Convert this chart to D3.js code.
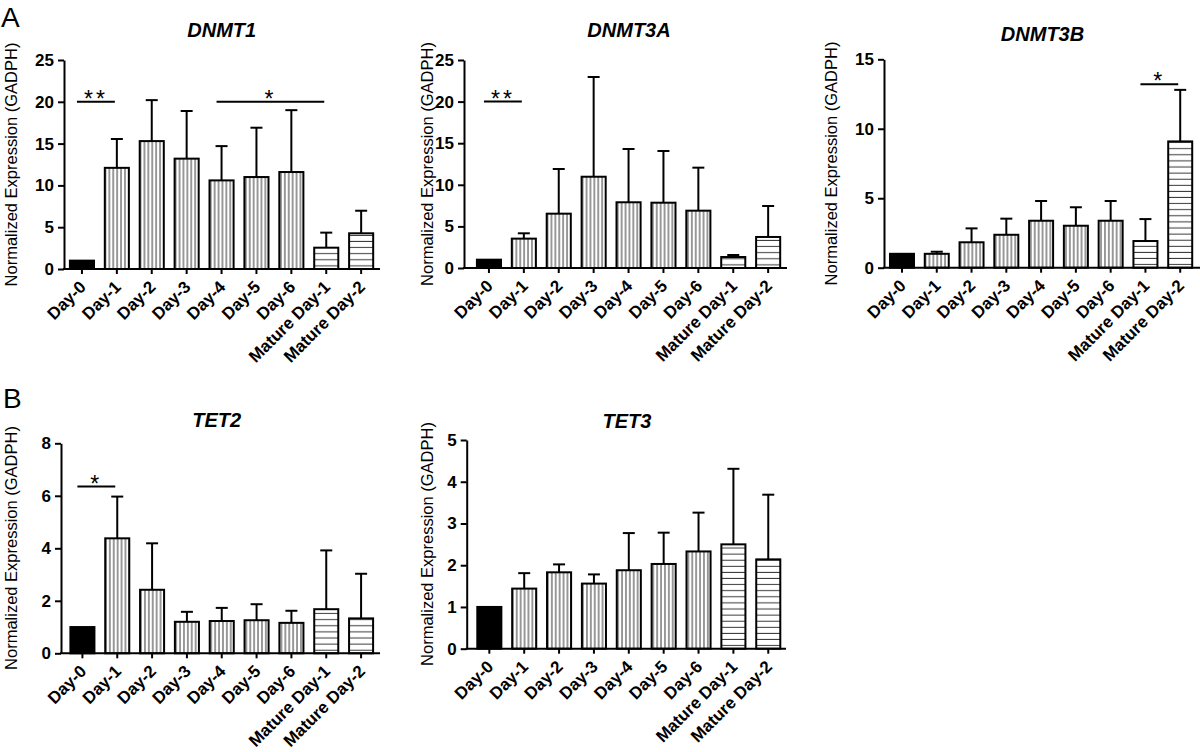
<!DOCTYPE html>
<html><head><meta charset="utf-8">
<script src="https://cdn.jsdelivr.net/npm/d3@7/dist/d3.min.js"></script>
<style>
body{margin:0;background:#fff}
svg{display:block}
text{font-family:"Liberation Sans",Arial,Helvetica,sans-serif;fill:#000}
</style>
</head><body>
<svg id="chart" width="1200" height="752"></svg>
<script>
// ---------- data ----------
const categories = ["Day-0","Day-1","Day-2","Day-3","Day-4","Day-5","Day-6","Mature Day-1","Mature Day-2"];

const dnmt1Mean  = [1.0, 12.1, 15.3, 13.2, 10.6, 11.0, 11.6, 2.55, 4.27];
const dnmt1Err   = [0, 3.45, 4.9, 5.7, 4.1, 5.9, 7.4, 1.8, 2.7];
const dnmt3aMean = [1.0, 3.53, 6.53, 10.97, 7.9, 7.85, 6.89, 1.32, 3.73];
const dnmt3aErr  = [0, 0.64, 5.37, 11.99, 6.4, 6.21, 5.17, 0.24, 3.72];
const dnmt3bMean = [1.0, 1.0, 1.83, 2.37, 3.38, 3.02, 3.38, 1.92, 9.09];
const dnmt3bErr  = [0, 0.15, 1.0, 1.16, 1.42, 1.33, 1.42, 1.58, 3.71];
const tet2Mean   = [1.0, 4.38, 2.42, 1.2, 1.23, 1.26, 1.16, 1.68, 1.33];
const tet2Err    = [0, 1.59, 1.77, 0.38, 0.5, 0.61, 0.46, 2.24, 1.7];
const tet3Mean   = [1.0, 1.44, 1.83, 1.56, 1.88, 2.03, 2.33, 2.5, 2.14];
const tet3Err    = [0, 0.37, 0.19, 0.22, 0.89, 0.75, 0.93, 1.81, 1.55];

const yTicksDNMT1  = [0, 5, 10, 15, 20, 25];
const yTicksDNMT3A = [0, 5, 10, 15, 20, 25];
const yTicksDNMT3B = [0, 5, 10, 15];
const yTicksTET2   = [0, 2, 4, 6, 8];
const yTicksTET3   = [0, 1, 2, 3, 4, 5];

const sigDNMT1  = [{from:"Day-0", to:"Day-1", y:20, label:"**"}, {from:"Day-4", to:"Mature Day-1", y:20, label:"*"}];
const sigDNMT3A = [{from:"Day-0", to:"Day-1", y:20, label:"**"}];
const sigDNMT3B = [{from:"Mature Day-1", to:"Mature Day-2", y:13.2, label:"*"}];
const sigTET2   = [{from:"Day-0", to:"Day-1", y:6.35, label:"*"}];
const sigTET3   = [];

const geneNames = ["DNMT1","DNMT3A","DNMT3B","TET2","TET3"];
const panelLetters = ["A","B"];
const yAxisTitle = "Normalized Expression (GADPH)";

// ---------- layout ----------
const panels = [
  {title:geneNames[0], mean:dnmt1Mean,  err:dnmt1Err,  ticks:yTicksDNMT1,  sig:sigDNMT1,
   ax:64,  b0:64.5,  b1:378.6,  xEnd:380,  yTop:60,   yBot:269,   tx:221.7, ty:36.7, lx:17,  ly:164.5},
  {title:geneNames[1], mean:dnmt3aMean, err:dnmt3aErr, ticks:yTicksDNMT3A, sig:sigDNMT3A,
   ax:464, b0:471.5, b1:785.6,  xEnd:787,  yTop:60,   yBot:268,   tx:629,   ty:37,   lx:433, ly:164},
  {title:geneNames[2], mean:dnmt3bMean, err:dnmt3bErr, ticks:yTicksDNMT3B, sig:sigDNMT3B,
   ax:884, b0:884.6, b1:1197.6, xEnd:1200, yTop:59.3, yBot:267.7, tx:1042.5,ty:41,   lx:837, ly:163.5},
  {title:geneNames[3], mean:tet2Mean,   err:tet2Err,   ticks:yTicksTET2,   sig:sigTET2,
   ax:61,  b0:65,    b1:378.5,  xEnd:380,  yTop:443.3,yBot:653.3, tx:216.7, ty:426.7,lx:17,  ly:548},
  {title:geneNames[4], mean:tet3Mean,   err:tet3Err,   ticks:yTicksTET3,   sig:sigTET3,
   ax:466.7,b0:471.9,b1:785.7,  xEnd:786,  yTop:440,  yBot:648.7, tx:627,   ty:427.5,lx:433, ly:544}
];

const svg = d3.select("#chart");
const defs = svg.append("defs");

svg.append("text").attr("x", 1).attr("y", 27).attr("font-size", 28).text(panelLetters[0]);
svg.append("text").attr("x", 3).attr("y", 408).attr("font-size", 28).text(panelLetters[1]);

panels.forEach((p, pi) => {
  const g = svg.append("g");
  const x = d3.scaleBand().domain(categories).range([p.b0, p.b1]).paddingInner(0.31).paddingOuter(0.155);
  const yMax = p.ticks[p.ticks.length - 1];
  const y = d3.scaleLinear().domain([0, yMax]).range([p.yBot, p.yTop]);

  // patterns
  const vId = "vert" + pi, hId = "horz" + pi;
  const pv = defs.append("pattern").attr("id", vId).attr("patternUnits", "userSpaceOnUse")
    .attr("x", p.b0).attr("y", 0).attr("width", 3.9).attr("height", 10);
  pv.append("line").attr("x1", 1.95).attr("x2", 1.95).attr("y1", 0).attr("y2", 10)
    .attr("stroke", "#333").attr("stroke-width", 1);
  const ph = defs.append("pattern").attr("id", hId).attr("patternUnits", "userSpaceOnUse")
    .attr("x", 0).attr("y", p.yBot).attr("width", 10).attr("height", 6.1);
  ph.append("line").attr("x1", 0).attr("x2", 10).attr("y1", 3).attr("y2", 3)
    .attr("stroke", "#333").attr("stroke-width", 1);

  const fillFor = c => c === "Day-0" ? "#000" : (c.startsWith("Mature") ? `url(#${hId})` : `url(#${vId})`);

  // title
  g.append("text").attr("x", p.tx).attr("y", p.ty).attr("text-anchor", "middle")
    .attr("font-size", 20).attr("font-weight", "bold").attr("font-style", "italic").text(p.title);

  // y-axis title
  g.append("text").attr("transform", `translate(${p.lx},${p.ly}) rotate(-90)`)
    .attr("text-anchor", "middle").attr("font-size", 16.5).text(yAxisTitle);

  const data = categories.map((c, i) => ({c, m: p.mean[i], e: p.err[i]}));

  // bars
  g.selectAll("rect.bar").data(data).join("rect").attr("class", "bar")
    .attr("x", d => x(d.c)).attr("width", x.bandwidth())
    .attr("y", d => y(d.m)).attr("height", d => y(0) - y(d.m))
    .attr("fill", d => fillFor(d.c)).attr("stroke", "#000").attr("stroke-width", 2);

  // error bars
  const eb = data.filter(d => d.e > 0);
  g.selectAll("line.err").data(eb).join("line").attr("class", "err")
    .attr("x1", d => x(d.c) + x.bandwidth() / 2).attr("x2", d => x(d.c) + x.bandwidth() / 2)
    .attr("y1", d => y(d.m)).attr("y2", d => y(d.m + d.e))
    .attr("stroke", "#000").attr("stroke-width", 2);
  g.selectAll("line.cap").data(eb).join("line").attr("class", "cap")
    .attr("x1", d => x(d.c) + x.bandwidth() / 2 - 6).attr("x2", d => x(d.c) + x.bandwidth() / 2 + 6)
    .attr("y1", d => y(d.m + d.e)).attr("y2", d => y(d.m + d.e))
    .attr("stroke", "#000").attr("stroke-width", 2);

  // significance
  p.sig.forEach(s => {
    const xa = x(s.from) + x.bandwidth() / 2 - 5;
    const xb = x(s.to) + x.bandwidth() / 2 - 2;
    g.append("line").attr("x1", xa).attr("x2", xb).attr("y1", y(s.y)).attr("y2", y(s.y))
      .attr("stroke", "#000").attr("stroke-width", 2);
    g.append("text").attr("x", (xa + xb) / 2).attr("y", y(s.y) + 5).attr("text-anchor", "middle")
      .attr("font-size", 23).attr("letter-spacing", 3).text(s.label);
  });

  // y axis
  const ya = g.append("g").attr("transform", `translate(${p.ax},0)`)
    .call(d3.axisLeft(y).tickValues(p.ticks).tickSize(6).tickSizeOuter(0).tickPadding(4).tickFormat(d3.format("d")));
  ya.select(".domain").attr("stroke-width", 2);
  ya.selectAll(".tick line").attr("stroke-width", 2);
  ya.selectAll(".tick text").attr("font-size", 17).attr("font-weight", "bold")
    .attr("font-family", "'Liberation Sans',Arial,sans-serif").attr("fill", "#000");

  // x axis
  const xa = g.append("g").attr("transform", `translate(0,${p.yBot})`)
    .call(d3.axisBottom(x).tickSize(5).tickSizeOuter(0).tickPadding(0));
  xa.select(".domain").remove();
  xa.selectAll(".tick line").attr("stroke-width", 2);
  xa.selectAll(".tick text")
    .attr("font-size", 17).attr("font-weight", "bold")
    .attr("font-family", "'Liberation Sans',Arial,sans-serif").attr("fill", "#000")
    .attr("text-anchor", "end").attr("dy", null).attr("y", null)
    .attr("transform", "translate(5,19) rotate(-45)");
  g.append("line").attr("x1", p.ax - 1).attr("x2", p.xEnd).attr("y1", p.yBot).attr("y2", p.yBot)
    .attr("stroke", "#000").attr("stroke-width", 2);
});
</script>
</body></html>
